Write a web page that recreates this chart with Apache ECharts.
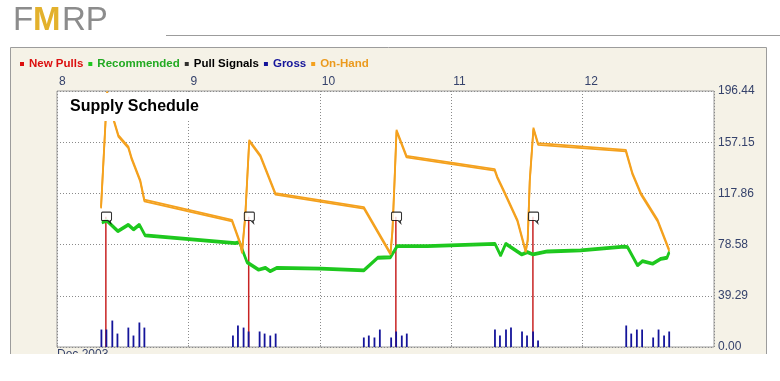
<!DOCTYPE html>
<html>
<head>
<meta charset="utf-8">
<script src="https://cdn.jsdelivr.net/npm/echarts@6/dist/echarts.min.js"></script>
<style>html,body{margin:0;padding:0;background:#fff;}#c{width:780px;height:381px;}</style>
</head>
<body>
<div id="c"></div>
<script>
// ---- data ----
const yTickLabels = ['0.00','39.29','78.58','117.86','157.15','196.44'];
const xTickLabels = ['8','9','10','11','12'];
const seriesNames = ['New Pulls','Recommended','Pull Signals','Gross','On-Hand'];

const onHand = [
 [8.335,107.6],[8.381,196.0],[8.437,172.9],[8.467,162.7],[8.543,153.8],[8.569,144.9],[8.633,128.3],[8.665,113.0],
 [9.332,97.6],[9.395,80.0],[9.408,73.1],[9.414,73.1],[9.433,101.5],[9.463,158.9],[9.547,147.4],[9.662,118.1],
 [10.335,107.4],[10.538,72.1],[10.553,90.0],[10.569,128.3],[10.584,166.6],[10.66,146.7],
 [11.331,136.5],[11.351,130.8],[11.399,120.6],[11.504,97.6],[11.567,73.9],[11.582,82.3],[11.598,128.3],[11.626,168.3],[11.661,156.4],
 [12.329,151.3],[12.380,133.4],[12.444,118.1],[12.571,97.6],[12.659,74.7]
];
const recommended = [
 [8.341,96.3],[8.379,97.6],[8.463,89.5],[8.543,94.4],[8.582,90.8],[8.627,94.4],[8.671,86.2],
 [9.357,80.3],[9.389,81.0],[9.446,65.7],[9.534,59.9],[9.585,61.4],[9.623,58.8],[9.675,61.4],
 [10.005,60.7],[10.335,59.4],[10.441,69.1],[10.538,69.5],[10.589,78.0],[10.818,78.0],
 [11.333,79.8],[11.376,70.8],[11.415,79.8],[11.537,71.6],[11.580,73.4],[11.623,71.6],[11.732,73.9],
 [11.986,74.7],[12.316,77.7],[12.342,77.2],[12.418,63.2],[12.456,66.5],[12.533,64.5],[12.596,68.3],[12.642,69.1],[12.659,73.4]
];
const newPulls = [[8.373,100],[9.460,100],[10.580,100],[11.623,100]];
const pullSignals = [[8.373,100],[9.460,100],[10.580,100],[11.623,100]];
const gross = [
 [8.338,13.4],[8.376,13.4],[8.421,20.3],[8.460,10.3],[8.543,14.9],[8.582,8.8],[8.627,18.8],[8.665,14.9],
 [9.339,8.8],[9.377,16.5],[9.420,14.9],[9.458,11.9],[9.542,11.9],[9.580,10.3],[9.623,8.8],[9.664,10.3],
 [10.335,7.3],[10.373,8.8],[10.416,7.3],[10.457,13.4],[10.543,7.3],[10.581,11.9],[10.624,8.8],[10.662,10.3],
 [11.333,13.4],[11.371,8.8],[11.417,13.4],[11.455,14.9],[11.539,11.9],[11.577,8.8],[11.623,11.9],[11.661,5.0],
 [12.332,16.5],[12.370,10.3],[12.413,13.4],[12.453,13.4],[12.537,7.3],[12.578,13.4],[12.620,8.8],[12.659,11.9]
];

// ---- styles ----
const C = {
  red:'#c82323', redText:'#dc0f0f', green:'#1ec81e', greenText:'#22aa22',
  black:'#000000', navy:'#14149a', orange:'#f4a11e', orangeText:'#eb9a1e',
  axisText:'#35426b', grid:'#8a8a8a', border:'#9c9c9c', panel:'#f5f2e7'
};
const FONT = '"Liberation Sans", Arial, sans-serif';

const chart = echarts.init(document.getElementById('c'), null, {renderer:'canvas'});
const legendColors = [C.redText, C.greenText, C.black, C.navy, C.orangeText];
const iconColors = [C.redText, C.green, C.black, C.navy, C.orange];

chart.setOption({
  backgroundColor:'#ffffff',
  animation:false,
  legend:{
    left:15, top:53, itemWidth:4, itemHeight:4, itemGap:5, icon:'rect',
    selectedMode:false,
    textStyle:{fontFamily:FONT, fontWeight:'bold', fontSize:11.5},
    data: seriesNames.map((n,i)=>({name:n, icon:'rect',
      itemStyle:{color:iconColors[i], borderWidth:0},
      textStyle:{color:legendColors[i]}}))
  },
  grid:{left:57, right:66, top:91, bottom:34, show:true, backgroundColor:'#ffffff', borderColor:C.border, borderWidth:1},
  xAxis:{
    type:'value', position:'top', min:8, max:13, interval:1,
    axisLine:{show:false},
    axisTick:{show:true, length:2, lineStyle:{color:C.border}},
    axisLabel:{color:C.axisText, fontFamily:FONT, fontSize:12, margin:3, align:'left', padding:[0,0,0,2],
      showMaxLabel:false, formatter:(v)=>{const i=Math.round(v)-8; return xTickLabels[i]!==undefined?xTickLabels[i]:'';}},
    splitLine:{show:true, lineStyle:{color:C.grid, type:[1,2], width:1}}
  },
  yAxis:{
    type:'value', position:'right', min:0, max:196.44, interval:39.288,
    axisLine:{show:false}, axisTick:{show:false},
    axisLabel:{color:C.axisText, fontFamily:FONT, fontSize:12, margin:4,
      formatter:(v)=>{const i=Math.round(v/39.288); return yTickLabels[i]!==undefined?yTickLabels[i]:'';}},
    splitLine:{show:true, lineStyle:{color:C.grid, type:[1,2], width:1}}
  },
  series:[
    {name:'New Pulls', type:'bar', data:newPulls, barWidth:1.5, barGap:'-100%', z:3,
      itemStyle:{color:C.red}},
    {name:'Recommended', type:'line', data:recommended, symbol:'none', z:5,
      lineStyle:{color:C.green, width:2.2, shadowColor:C.green, shadowBlur:0, shadowOffsetY:1.6},
      itemStyle:{color:C.green}},
    {name:'Pull Signals', type:'scatter', data:pullSignals, z:20,
      symbol:'path://M1,0 L9,0 Q10,0 10,1 L10,7 Q10,8 9,8 L8.6,8 L9.2,10.6 L6.6,8 L1,8 Q0,8 0,7 L0,1 Q0,0 1,0 Z',
      symbolSize:[10,11], symbolOffset:[0.5,1],
      itemStyle:{color:'#ffffff', borderColor:'#000000', borderWidth:1.1}},
    {name:'Gross', type:'bar', data:gross, barWidth:1.8, barGap:'-100%', z:4,
      itemStyle:{color:C.navy}},
    {name:'On-Hand', type:'line', data:onHand, symbol:'none', z:6,
      lineStyle:{color:C.orange, width:1.8, shadowColor:C.orange, shadowBlur:0, shadowOffsetY:1.6},
      itemStyle:{color:C.orange}}
  ],
  graphic:[
    // panel background
    {type:'rect', z:-10, silent:true, shape:{x:10.5, y:47.5, width:756, height:330},
      style:{fill:C.panel, stroke:C.border, lineWidth:1}},
    // header line
    {type:'line', z:-10, silent:true, shape:{x1:166, y1:35.5, x2:780, y2:35.5}, style:{stroke:C.border, lineWidth:1}},
    // logo
    {type:'text', z:1, silent:true, style:{text:'F', x:13, y:21, fontSize:33, fontFamily:FONT, fill:'#8c8c8c', textVerticalAlign:'middle'}},
    {type:'text', z:1, silent:true, style:{text:'M', x:33, y:21, fontSize:33, fontFamily:FONT, fontWeight:'bold', fill:'#e3b12c', textVerticalAlign:'middle'}},
    {type:'text', z:1, silent:true, style:{text:'RP', x:62, y:21, fontSize:33, fontFamily:FONT, fill:'#8c8c8c', textVerticalAlign:'middle'}},
    // chart title box
    {type:'rect', z:50, silent:true, shape:{x:63, y:93, width:145, height:28}, style:{fill:'#ffffff'}},
    {type:'text', z:51, silent:true, style:{text:'Supply Schedule', x:70, y:98.5, fontSize:16, fontWeight:'bold', fontFamily:FONT, fill:'#000000', textVerticalAlign:'top'}},
    // period label (clipped by the white strip)
    {type:'text', z:1, silent:true, style:{text:'Dec 2003', x:57, y:348.5, fontSize:12, fontFamily:FONT, fill:C.axisText, textVerticalAlign:'top'}},
    {type:'rect', z:60, silent:true, shape:{x:0, y:354, width:780, height:30}, style:{fill:'#ffffff'}}
  ]
});
</script>
</body>
</html>
